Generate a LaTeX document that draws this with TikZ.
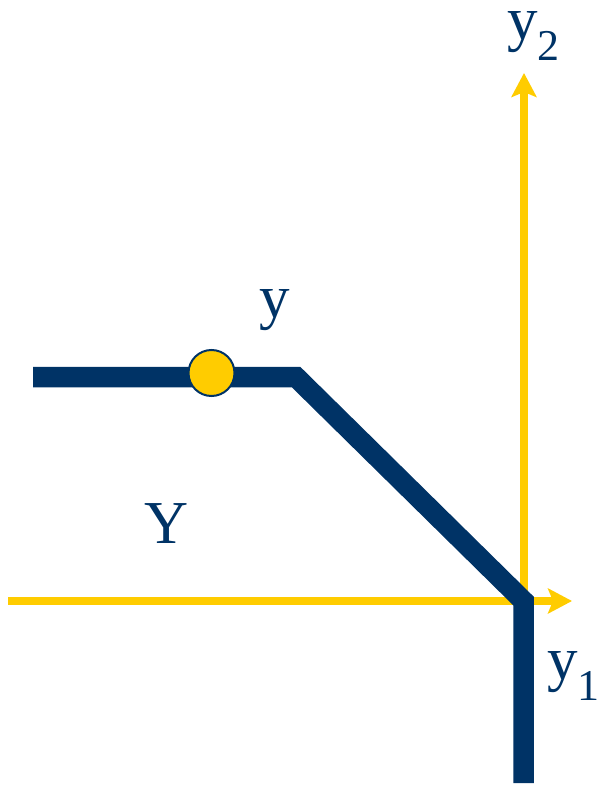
\documentclass[tikz,border=0pt]{standalone}
\usepackage{fontspec}
\setmainfont{Liberation Serif}
\usetikzlibrary{arrows.meta}
\definecolor{navy}{RGB}{0,51,102}
\definecolor{gold}{RGB}{255,204,0}
\tikzset{
  axis/.style={draw=gold, line width=7.5pt, -{Stealth[length=24pt,width=25pt,inset=5pt]}},
  budget/.style={draw=navy, line width=20.5pt, line join=miter},
  pointmark/.style={circle, fill=gold, draw=navy, line width=2pt, minimum size=46pt, inner sep=0pt},
  lab/.style={text=navy, anchor=base west, inner sep=0pt, font=\fontsize{61}{61}\selectfont},
}
\newcommand{\subtx}[1]{\raisebox{-21pt}{\fontsize{44}{44}\selectfont #1}}
\begin{document}
\begin{tikzpicture}[x=1pt,y=-1pt]
\useasboundingbox (0,0) rectangle (597,786);
\coordinate (hstart) at (8,601);
\coordinate (hend) at (572,601);
\coordinate (vstart) at (524,601);
\coordinate (vend) at (524,73);
\coordinate (bleft) at (33,377);
\coordinate (bkink) at (296,377);
\coordinate (bcorner) at (523.5,601);
\coordinate (bbottom) at (523.5,783);
\draw[axis] (hstart) -- (hend);
\draw[axis] (vstart) -- (vend);
\draw[budget] (bleft) -- (bkink) -- (bcorner) -- (bbottom);
\node[pointmark] (pt) at (211.5,373) {};
\node[lab] (ylab) at (259,317) {y};
\node[lab] (Ylab) at (144,543) {Y};
\node[lab] (y1lab) at (547,679) {y\subtx{1}};
\node[lab] (y2lab) at (507,40) {y\subtx{2}};
\end{tikzpicture}
\end{document}
